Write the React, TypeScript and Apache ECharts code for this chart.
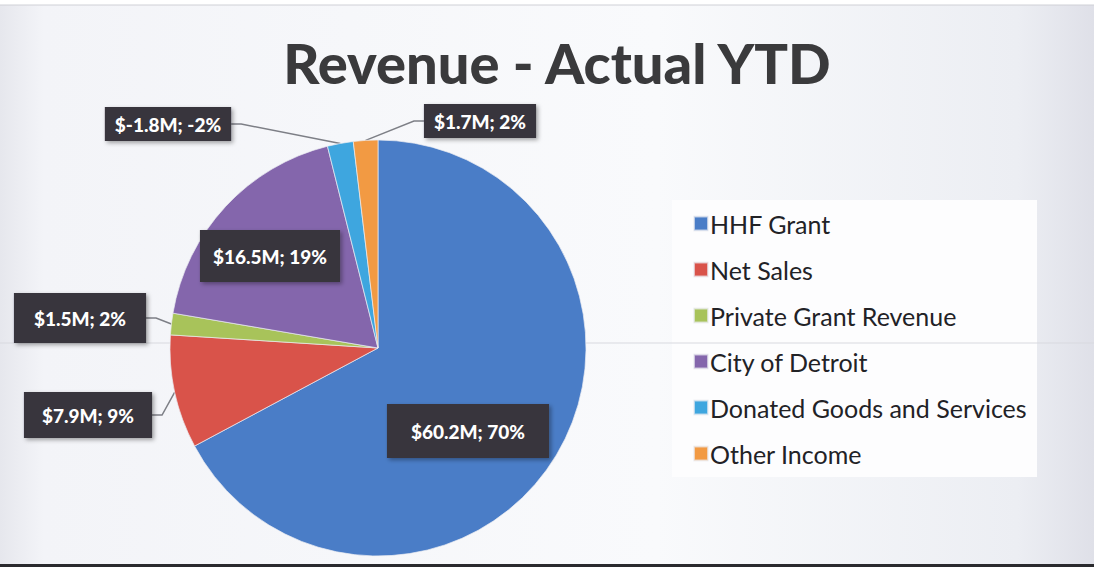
import React, { useEffect, useRef } from "react";
import * as echarts from "echarts";

const categories = [
  "HHF Grant",
  "Net Sales",
  "Private Grant Revenue",
  "City of Detroit",
  "Donated Goods and Services",
  "Other Income",
];
// values in $M (signed, as reported)
const values = [60.2, 7.9, 1.5, 16.5, -1.8, 1.7];
const colors = ["#4a7dc7", "#d9534a", "#a8c35a", "#8466ac", "#3ea6df", "#f29a43"];

export default function App() {
  const ref = useRef<HTMLDivElement>(null);
  useEffect(() => {
    if (!ref.current) return;
    const chart = echarts.init(ref.current, null, { renderer: "svg" });
    const total = values.reduce((a, b) => a + b, 0);

    // label placement (layout only)
    const labelPos: [number, number][] = [
      [468, 431],
      [88, 415],
      [80, 318],
      [270, 256],
      [168, 124],
      [480, 121],
    ];
    const labelPad: [number, number][] = [
      [17, 24],
      [13, 18],
      [15, 20],
      [16, 13],
      [7, 10],
      [7, 10],
    ];
    const inside = [true, false, false, true, false, false];

    const data = categories.map((name, i) => ({
      name,
      value: Math.abs(values[i]),
      itemStyle: { color: colors[i] },
      label: {
        position: inside[i] ? "inside" : "outside",
        padding: labelPad[i],
      },
      labelLine: { show: !inside[i] },
    }));

    chart.setOption({
      animation: false,
      backgroundColor: {
        type: "linear",
        x: 0,
        y: 0,
        x2: 1,
        y2: 0,
        colorStops: [
          { offset: 0, color: "#e6e7ed" },
          { offset: 0.04, color: "#f3f4f8" },
          { offset: 0.6, color: "#f9fafc" },
          { offset: 0.93, color: "#eceef3" },
          { offset: 1, color: "#dfe0e8" },
        ],
      },
      graphic: [
        {
          type: "rect",
          shape: { x: 672, y: 200, width: 365, height: 277 },
          style: { fill: "#fdfdfe" },
          z: -1,
        },
        {
          type: "rect",
          shape: { x: 0, y: 0, width: 1094, height: 5 },
          style: { fill: "#ffffff" },
        },
        {
          type: "line",
          shape: { x1: 0, y1: 5, x2: 1094, y2: 5 },
          style: { stroke: "#cfd0d6", lineWidth: 1 },
        },
        {
          type: "line",
          shape: { x1: 0, y1: 343, x2: 1094, y2: 343 },
          style: { stroke: "#d8d9df", lineWidth: 1 },
          z: -1,
        },
        {
          type: "rect",
          shape: { x: 0, y: 564, width: 1094, height: 3 },
          style: { fill: "#2a2a2e" },
        },
        {
          type: "rect",
          shape: { x: 0, y: 567, width: 1094, height: 6 },
          style: { fill: "#ffffff" },
        },
      ],
      title: {
        text: "Revenue - Actual YTD",
        left: 552,
        textAlign: "center",
        top: 29,
        textStyle: {
          fontFamily: "Lato",
          fontWeight: 900,
          fontSize: 56,
          color: "#3a3a3c",
        },
      },
      legend: {
        orient: "vertical",
        left: 688,
        top: 206,
        itemWidth: 14,
        itemHeight: 14,
        itemGap: 21,
        icon: "rect",
        data: categories,
        textStyle: {
          fontFamily: "Lato",
          fontSize: 25,
          lineHeight: 25,
          color: "#222226",
          padding: [0, 0, 0, -3],
        },
      },
      series: [
        {
          type: "pie",
          center: [378, 348],
          radius: 208,
          startAngle: 90,
          clockwise: true,
          avoidLabelOverlap: false,
          itemStyle: { borderColor: "rgba(235,236,242,0.7)", borderWidth: 1 },
          label: {
            show: true,
            formatter: (p: any) => {
              const v = values[p.dataIndex];
              return `$${v}M; ${Math.round((v / total) * 100)}%`;
            },
            fontFamily: "Lato",
            fontWeight: 900,
            fontSize: 19,
            lineHeight: 20,
            color: "#ffffff",
            backgroundColor: "#37353d",
            shadowColor: "rgba(0,0,0,0.35)",
            shadowBlur: 4,
            shadowOffsetX: 2,
            shadowOffsetY: 2,
          },
          labelLine: {
            show: true,
            length: 10,
            length2: 10,
            lineStyle: { color: "#7d7f86", width: 1.5 },
          },
          labelLayout: (p: any) => {
            const pos = labelPos[p.dataIndex];
            return { x: pos[0], y: pos[1], align: "center", verticalAlign: "middle" };
          },
          data,
        },
      ],
    });
    return () => chart.dispose();
  }, []);
  return (
    <div
      ref={ref}
      style={{ position: "absolute", left: 0, top: 0, width: 1094, height: 573 }}
    />
  );
}
